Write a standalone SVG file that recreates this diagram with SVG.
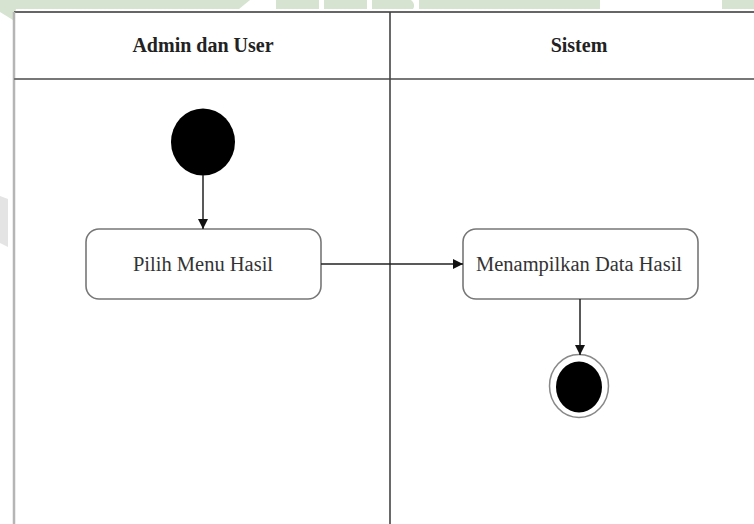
<svg xmlns="http://www.w3.org/2000/svg" width="754" height="524" viewBox="0 0 754 524">
  <style>
    .wm { fill: #d5e3d0; }
    .lane-title { font-family: "Liberation Serif", "Times New Roman", serif; font-weight: bold; font-size: 20px; fill: #222; text-anchor: middle; }
    .act { fill: #ffffff; stroke: #777777; stroke-width: 1.6; }
    .act-label { font-family: "Liberation Serif", "Times New Roman", serif; font-size: 20.5px; fill: #333; text-anchor: middle; }
    .edge { fill: none; stroke: #222; stroke-width: 1.5; }
  </style>
  <defs>
    <marker id="arrow" viewBox="0 0 10 10" refX="10" refY="5" markerWidth="10" markerHeight="10" markerUnits="userSpaceOnUse" orient="auto">
      <path d="M0,0 L10,5 L0,10 Z" fill="#111"/>
    </marker>
  </defs>

  <rect width="754" height="524" fill="#ffffff"/>

  <!-- faint page decoration along the top edge -->
  <g id="decoration">
    <polygon class="wm" points="0,0 250,0 239,9 16,9 13,20 0,12"/>
    <rect class="wm" x="276" y="0" width="43" height="9"/>
    <rect class="wm" x="324" y="0" width="43" height="9"/>
    <path class="wm" d="M372,0 H411 Q416,4 413,9 H372 Z"/>
    <rect class="wm" x="419" y="0" width="181" height="9"/>
    <rect class="wm" x="722" y="0" width="32" height="9"/>
    <polygon points="0,196 8,199 8,247 0,243" fill="#e4e4e4"/>
  </g>

  <!-- swimlane frame -->
  <g id="swimlanes">
    <line x1="14" y1="12" x2="754" y2="12" stroke="#666" stroke-width="2.2"/>
    <line x1="14" y1="12" x2="14" y2="524" stroke="#b5b5b5" stroke-width="2.5"/>
    <line x1="14" y1="79" x2="754" y2="79" stroke="#777" stroke-width="2"/>
    <line x1="390" y1="12" x2="390" y2="524" stroke="#444" stroke-width="1.6"/>
    <text class="lane-title" x="203" y="52">Admin dan User</text>
    <text class="lane-title" x="579" y="52">Sistem</text>
  </g>

  <!-- start node -->
  <g id="start">
    <ellipse cx="203" cy="142" rx="32" ry="33.5" fill="#000"/>
  </g>

  <!-- activity: Pilih Menu Hasil -->
  <g id="pilih-menu-hasil">
    <rect class="act" x="86" y="229" width="235" height="70" rx="13" ry="13"/>
    <text class="act-label" x="203" y="271">Pilih Menu Hasil</text>
  </g>

  <!-- activity: Menampilkan Data Hasil -->
  <g id="menampilkan-data-hasil">
    <rect class="act" x="463" y="229" width="235" height="70" rx="13" ry="13"/>
    <text class="act-label" x="579" y="271">Menampilkan Data Hasil</text>
  </g>

  <!-- end node -->
  <g id="end">
    <ellipse cx="579" cy="386" rx="29.5" ry="31.5" fill="#fff" stroke="#888" stroke-width="1.5"/>
    <ellipse cx="579" cy="387" rx="23" ry="25.5" fill="#000"/>
  </g>

  <!-- control flows -->
  <g id="connectors">
    <line class="edge" x1="203" y1="175" x2="203" y2="229" marker-end="url(#arrow)"/>
    <line class="edge" x1="321" y1="264" x2="463" y2="264" marker-end="url(#arrow)"/>
    <line class="edge" x1="580" y1="299" x2="580" y2="355" marker-end="url(#arrow)"/>
  </g>
</svg>
